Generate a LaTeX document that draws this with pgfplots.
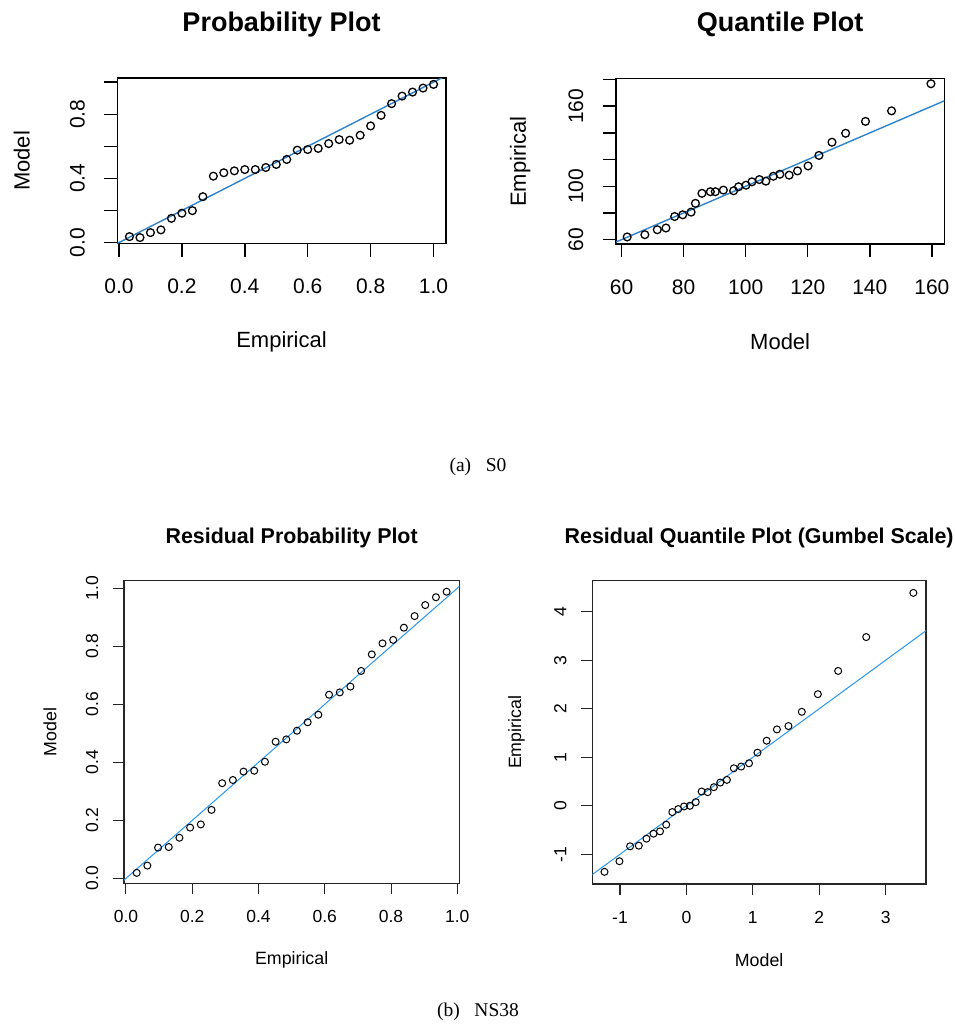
\documentclass[border=0pt]{standalone}
\usepackage{pgfplots}
\pgfplotsset{compat=1.18}
\usepackage{fontspec}
\setmainfont{Liberation Sans}
\newfontfamily\timesfont{Liberation Serif}
\definecolor{rblueT}{RGB}{45,130,205}
\definecolor{rblueB}{RGB}{40,150,240}
\pgfplotsset{
  every axis title/.style={anchor=center, inner sep=0pt},
  rbase/.style={
    scale only axis,
    tick align=outside, xtick pos=bottom, ytick pos=left,
    xticklabel style={anchor=center, inner sep=0pt},
    yticklabel style={rotate=90, anchor=center, inner sep=0pt},
    xlabel style={anchor=center, inner sep=0pt},
    ylabel style={anchor=center, inner sep=0pt},
    clip=true,
  },
  rtop/.style={rbase,
    axis line style={black, line width=1.6pt},
    major tick style={black, line width=1.4pt},
    major tick length=13pt,
    tick label style={font=\fontsize{21}{21}\selectfont},
    title style={font=\fontsize{27}{27}\selectfont\bfseries},
    label style={font=\fontsize{22}{22}\selectfont},
    xticklabel shift=30pt, yticklabel shift=27pt,
  },
  rbot/.style={rbase,
    axis line style={black!85, line width=1.1pt},
    major tick style={black!85, line width=1.0pt},
    major tick length=11pt,
    tick label style={font=\fontsize{17.5}{17.5}\selectfont},
    title style={font=\fontsize{21.4}{21.4}\selectfont\bfseries},
    label style={font=\fontsize{17.8}{17.8}\selectfont},
    xticklabel shift=22pt, yticklabel shift=21pt,
  },
  ptT/.style={only marks, mark=o, mark size=3.9pt, mark options={black, line width=1.3pt}},
  ptB/.style={only marks, mark=o, mark size=3.5pt, mark options={black, line width=1.0pt}},
}
\begin{document}
\begin{tikzpicture}
\path[use as bounding box] (0pt,0pt) rectangle (955pt,1030pt);

% ---------- (a) Probability Plot ----------
\begin{axis}[rtop, at={(117.3pt,786.3pt)}, anchor=south west, width=328.4pt, height=165.4pt,
  xmin=-0.0054, xmax=1.0387, ymin=-0.007, ymax=1.024,
  xtick={0,0.2,0.4,0.6,0.8,1}, xticklabels={0.0,0.2,0.4,0.6,0.8,1.0},
  ytick={0,0.2,0.4,0.6,0.8,1}, yticklabels={0.0,,0.4,,0.8,},
  title={Probability Plot}, title style={at={(axis description cs:0.5,1.328)}},
  xlabel={Empirical}, xlabel style={at={(axis description cs:0.5,-0.593)}},
  ylabel={Model}, ylabel style={at={(axis description cs:-0.291,0.5)}},
]
\addplot[rblueT, line width=1.4pt] coordinates {(-0.1,-0.1) (1.2,1.2)};
\addplot[ptT] table {
x y
0.0333 0.037
0.0667 0.031
0.1000 0.062
0.1333 0.079
0.1667 0.151
0.2000 0.183
0.2333 0.199
0.2667 0.286
0.3000 0.414
0.3333 0.435
0.3667 0.447
0.4000 0.455
0.4333 0.455
0.4667 0.468
0.5000 0.487
0.5333 0.518
0.5667 0.576
0.6000 0.580
0.6333 0.587
0.6667 0.617
0.7000 0.642
0.7333 0.638
0.7667 0.669
0.8000 0.727
0.8333 0.793
0.8667 0.866
0.9000 0.913
0.9333 0.938
0.9667 0.963
1.0000 0.986
};
\end{axis}

% ---------- (a) Quantile Plot ----------
\begin{axis}[rtop, at={(616pt,785.7pt)}, anchor=south west, width=328.3pt, height=165.6pt,
  xmin=58.2, xmax=164.0, ymin=56.5, ymax=180.6,
  xtick={60,80,100,120,140,160}, xticklabels={60,80,100,120,140,160},
  ytick={60,80,100,120,140,160,180}, yticklabels={60,,100,,,160,},
  title={Quantile Plot}, title style={at={(axis description cs:0.5,1.330)}},
  xlabel={Model}, xlabel style={at={(axis description cs:0.5,-0.588)}},
  ylabel={Empirical}, ylabel style={at={(axis description cs:-0.292,0.5)}},
]
\addplot[rblueT, line width=1.4pt] coordinates {(40,40) (200,200)};
\addplot[ptT] table {
x y
61.8 62.0
67.5 63.7
71.5 67.4
74.3 68.7
77.1 77.3
79.7 78.6
82.4 80.6
83.8 87.2
85.9 94.7
88.6 95.9
90.2 95.9
92.8 97.1
96.1 96.6
97.7 99.6
100.1 100.8
102.0 103.3
104.4 105.0
106.5 103.8
108.9 107.5
111.0 109.0
114.0 108.3
116.7 111.5
120.1 115.2
123.6 123.1
127.8 133.0
132.2 139.7
138.6 148.6
147.0 156.5
159.7 176.8
};
\end{axis}

% ---------- (b) Residual Probability Plot ----------
\begin{axis}[rbot, at={(124pt,146.7pt)}, anchor=south west, width=335.3pt, height=302.6pt,
  xmin=-0.006, xmax=1.006, ymin=-0.017, ymax=1.026,
  xtick={0,0.2,0.4,0.6,0.8,1}, xticklabels={0.0,0.2,0.4,0.6,0.8,1.0},
  ytick={0,0.2,0.4,0.6,0.8,1}, yticklabels={0.0,0.2,0.4,0.6,0.8,1.0},
  title={Residual Probability Plot}, title style={at={(axis description cs:0.5,1.140)}},
  xlabel={Empirical}, xlabel style={at={(axis description cs:0.5,-0.253)}},
  ylabel={Model}, ylabel style={at={(axis description cs:-0.221,0.5)}},
]
\addplot[rblueB, line width=1.0pt] coordinates {(-0.1,-0.1) (1.2,1.2)};
\addplot[ptB] table {
x y
0.0323 0.019
0.0645 0.044
0.0968 0.106
0.1290 0.108
0.1613 0.140
0.1935 0.175
0.2258 0.186
0.2581 0.236
0.2903 0.328
0.3226 0.339
0.3548 0.368
0.3871 0.371
0.4194 0.402
0.4516 0.471
0.4839 0.479
0.5161 0.509
0.5484 0.538
0.5806 0.564
0.6129 0.633
0.6452 0.641
0.6774 0.661
0.7097 0.715
0.7419 0.772
0.7742 0.810
0.8065 0.822
0.8387 0.864
0.8710 0.904
0.9032 0.942
0.9355 0.969
0.9677 0.988
};
\end{axis}

% ---------- (b) Residual Quantile Plot ----------
\begin{axis}[rbot, at={(592.3pt,146pt)}, anchor=south west, width=333.7pt, height=303.3pt,
  xmin=-1.417, xmax=3.608, ymin=-1.612, ymax=4.639,
  xtick={-1,0,1,2,3}, xticklabels={-1,0,1,2,3},
  ytick={-1,0,1,2,3,4}, yticklabels={-1,0,1,2,3,4},
  title={Residual Quantile Plot (Gumbel Scale)}, title style={at={(axis description cs:0.5,1.140)}},
  xlabel={Model}, xlabel style={at={(axis description cs:0.5,-0.251)}},
  ylabel={Empirical}, ylabel style={at={(axis description cs:-0.227,0.5)}},
]
\addplot[rblueB, line width=1.0pt] coordinates {(-2,-2) (5,5)};
\addplot[ptB] table {
x y
-1.2337 -1.362
-1.0083 -1.143
-0.8482 -0.835
-0.7167 -0.822
-0.6013 -0.678
-0.4961 -0.575
-0.3975 -0.527
-0.3034 -0.390
-0.2125 -0.130
-0.1235 -0.068
-0.0355 -0.014
0.0523 0.000
0.1404 0.075
0.2295 0.294
0.3203 0.281
0.4134 0.383
0.5095 0.479
0.6095 0.534
0.7142 0.773
0.8249 0.808
0.9429 0.876
1.0700 1.095
1.2090 1.341
1.3630 1.574
1.5366 1.643
1.7377 1.937
1.9796 2.300
2.2850 2.779
2.7077 3.477
3.4176 4.388
};
\end{axis}

\node[font=\timesfont\fontsize{19.5}{19.5}\selectfont, anchor=center] at (478pt,563pt) {(a)\hspace{0.75em}S0};
\node[font=\timesfont\fontsize{19.5}{19.5}\selectfont, anchor=center] at (478pt,18pt) {(b)\hspace{0.75em}NS38};
\end{tikzpicture}
\end{document}
